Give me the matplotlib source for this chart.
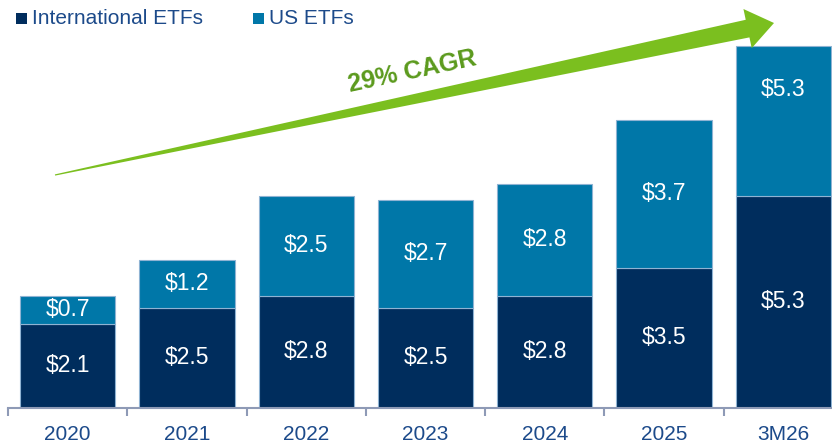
import matplotlib
matplotlib.use("Agg")
import matplotlib.pyplot as plt
import numpy as np
from matplotlib.patches import Polygon, Rectangle

plt.rcParams["font.family"] = ["Liberation Sans", "DejaVu Sans"]

# AUM by year, $bn
years = ["2020", "2021", "2022", "2023", "2024", "2025", "3M26"]
intl = [2.1, 2.5, 2.8, 2.5, 2.8, 3.5, 5.3]
us = [0.7, 1.2, 2.5, 2.7, 2.8, 3.7, 5.3]
# the original draws the last US segment shortened (not to scale)
us_drawn = [0.7, 1.2, 2.5, 2.7, 2.8, 3.7, 3.75]

NAVY = "#002D5D"
TEAL = "#0077A8"
EDGE = "#8FB3D3"
TXT = "#1C4A8A"
GREEN = "#7BBF1F"
DKGREEN = "#5B9A1D"

W, H = 832, 443
fig = plt.figure(figsize=(W / 100, H / 100), dpi=100)
fig.patch.set_facecolor("white")

def fx(x):
    return x / W

def fy(y):
    return 1 - y / H

ax = fig.add_axes([8 / W, 35 / H, 835 / W, 408 / H])
x = np.arange(len(years))
ax.bar(x, intl, width=0.8, color=NAVY, edgecolor=EDGE, linewidth=0.8)
ax.bar(x, us_drawn, bottom=intl, width=0.8, color=TEAL, edgecolor=EDGE, linewidth=0.8)

for i in range(len(years)):
    ax.text(x[i], intl[i] / 2, f"${intl[i]:.1f}", ha="center", va="center",
            color="white", fontsize=16.5)
    yl = intl[i] + us_drawn[i] / 2
    if i == len(years) - 1:
        yl = intl[i] + us_drawn[i] - 1.1
    ax.text(x[i], yl, f"${us[i]:.1f}", ha="center", va="center",
            color="white", fontsize=16.5)

ax.set_xlim(-0.5, 6.5)
ax.set_ylim(0, 10.2)
for s in ["top", "right", "left"]:
    ax.spines[s].set_visible(False)
ax.spines["bottom"].set_color("#8E9AB6")
ax.spines["bottom"].set_linewidth(1.5)
ax.set_yticks([])
ax.set_xticks(x)
ax.set_xticklabels(years, fontsize=15, color=TXT)
ax.tick_params(axis="x", which="major", length=0, pad=12)
ax.set_xticks(np.arange(-0.5, 7.0, 1.0), minor=True)
ax.tick_params(axis="x", which="minor", length=6, width=1.5, color="#8E9AB6")

# legend
for sx, col, lab in [(16, NAVY, "International ETFs"), (253, TEAL, "US ETFs")]:
    fig.patches.append(Rectangle((fx(sx), fy(23.5)), 11 / W, 11 / H,
                                 transform=fig.transFigure, facecolor=col,
                                 edgecolor="none"))
    fig.text(fx(sx + 16), fy(18), lab, ha="left", va="center",
             fontsize=15, color=TXT)

# CAGR arrow
tail = np.array([55.0, 175.0])
tip = np.array([774.0, 23.0])
d = (tip - tail) / np.linalg.norm(tip - tail)
n = np.array([d[1], -d[0]])
base = tip - 27 * d
pts = [tail + 0.6 * n, base + 9 * n, base + 20 * n, tip,
       base - 20 * n, base - 9 * n, tail - 0.6 * n]
pts = [(fx(p[0]), fy(p[1])) for p in pts]
fig.patches.append(Polygon(pts, closed=True, transform=fig.transFigure,
                           facecolor=GREEN, edgecolor="none"))
fig.text(fx(412), fy(72), "29% CAGR", ha="center", va="center",
         rotation=12, rotation_mode="anchor", fontsize=18,
         fontweight="bold", color=DKGREEN)

fig.savefig("out.png", dpi=100, facecolor="white")
